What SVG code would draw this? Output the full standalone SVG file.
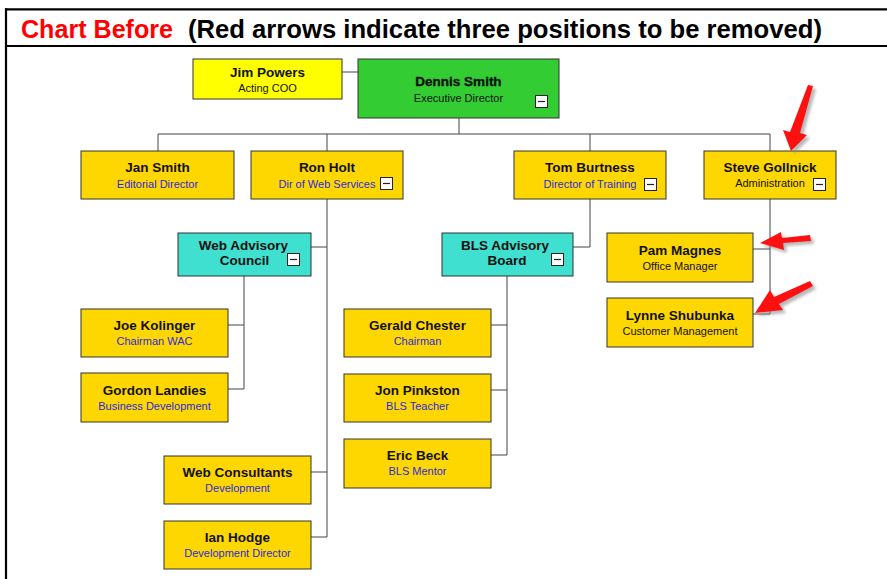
<svg xmlns="http://www.w3.org/2000/svg" width="887" height="579" viewBox="0 0 887 579">
<style>
.box{stroke:#333;stroke-width:1}
.y{fill:#FFD700}
.t{fill:#40E0D0}
.n{font-family:"Liberation Sans",Arial,sans-serif;font-weight:bold;font-size:13.5px;fill:#111;text-anchor:middle}
.s{font-family:"Liberation Sans",Arial,sans-serif;font-size:11px;fill:#2A2ADD;text-anchor:middle}
.k{fill:#111}
.c{fill:none;stroke:#444;stroke-width:1}
.cb{fill:#fff;stroke:#222;stroke-width:1}
.cm{stroke:#222;stroke-width:1.2}
.arrow{fill:#FF1010}
</style>
<defs>
<filter id="sh" x="-50%" y="-50%" width="200%" height="200%">
<feGaussianBlur stdDeviation="1.5"/>
</filter>
<g id="minus">
<rect class="cb" x="0.5" y="0.5" width="12" height="12"/>
<line class="cm" x1="3" y1="6.5" x2="10" y2="6.5"/>
</g>
</defs>
<rect width="887" height="579" fill="#fff"/>
<g id="frame" fill="none" stroke="#000" stroke-width="2.2">
<line x1="5" y1="9.3" x2="887" y2="9.3"/>
<line x1="5" y1="46" x2="887" y2="46"/>
<line x1="6" y1="8.2" x2="6" y2="579"/>
</g>
<g id="title" font-family="Liberation Sans,Arial,sans-serif" font-weight="bold" font-size="25px">
<text x="21" y="38" fill="#FF0000" textLength="152" lengthAdjust="spacingAndGlyphs">Chart Before</text>
<text x="188" y="38" fill="#000" textLength="634" lengthAdjust="spacingAndGlyphs">(Red arrows indicate three positions to be removed)</text>
</g>
<g id="connectors">
<path class="c" d="M342 72H358"/>
<path class="c" d="M459 118V134M158 134H770M158 134V151M327 134V151M590 134V151M770 134V151"/>
<path class="c" d="M327 199V537M311 247H327M311 472H327M311 537H327"/>
<path class="c" d="M244 276V389M228 325H244M228 389H244"/>
<path class="c" d="M590 199V247M573 247H590"/>
<path class="c" d="M507 276V455M491 325H507M491 390H507M491 455H507"/>
<path class="c" d="M770 199V314M753 249H770M753 314H770"/>
</g>
<g id="jim">
<rect class="box" x="193" y="59" width="149" height="40" fill="#FFFF00"/>
<text class="n" x="267.5" y="77" font-size="16.5px">Jim Powers</text>
<text class="s k" x="267.5" y="92">Acting COO</text>
</g>
<g id="dennis">
<rect class="box" x="358" y="59" width="201" height="59" fill="#33CC33"/>
<text class="n" x="458.5" y="86" font-size="15.5px" font-weight="normal" stroke="#111" stroke-width="0.35">Dennis Smith</text>
<text class="s k" x="458.5" y="102">Executive Director</text>
<use href="#minus" x="535" y="95"/>
</g>
<g id="jan">
<rect class="box y" x="81" y="151" width="153" height="48"/>
<text class="n" x="157.5" y="172">Jan Smith</text>
<text class="s" x="157.5" y="188">Editorial Director</text>
</g>
<g id="ron">
<rect class="box y" x="251" y="151" width="152" height="48"/>
<text class="n" x="327" y="172">Ron Holt</text>
<text class="s" x="327" y="188">Dir of Web Services</text>
<use href="#minus" x="380" y="177"/>
</g>
<g id="tom">
<rect class="box y" x="514" y="151" width="152" height="48"/>
<text class="n" x="590" y="172">Tom Burtness</text>
<text class="s" x="590" y="188">Director of Training</text>
<use href="#minus" x="644" y="178"/>
</g>
<g id="steve">
<rect class="box y" x="704" y="151" width="132" height="48"/>
<text class="n" x="770" y="172">Steve Gollnick</text>
<text class="s k" x="770" y="187">Administration</text>
<use href="#minus" x="813" y="178"/>
</g>
<g id="wac">
<rect class="box t" x="178" y="233" width="133" height="43"/>
<text class="n" x="243.5" y="250">Web Advisory</text>
<text class="n" x="244.5" y="265">Council</text>
<use href="#minus" x="287" y="253"/>
</g>
<g id="bls">
<rect class="box t" x="442" y="233" width="131" height="43"/>
<text class="n" x="505" y="250">BLS Advisory</text>
<text class="n" x="507" y="265">Board</text>
<use href="#minus" x="551" y="253"/>
</g>
<g id="pam">
<rect class="box y" x="607" y="233" width="146" height="49"/>
<text class="n" x="680" y="255">Pam Magnes</text>
<text class="s k" x="680" y="270">Office Manager</text>
</g>
<g id="lynne">
<rect class="box y" x="607" y="298" width="146" height="49"/>
<text class="n" x="680" y="320">Lynne Shubunka</text>
<text class="s k" x="680" y="335">Customer Management</text>
</g>
<g id="joe">
<rect class="box y" x="81" y="309" width="147" height="48"/>
<text class="n" x="154.5" y="330">Joe Kolinger</text>
<text class="s" x="154.5" y="345">Chairman WAC</text>
</g>
<g id="gordon">
<rect class="box y" x="81" y="373" width="147" height="49"/>
<text class="n" x="154.5" y="395">Gordon Landies</text>
<text class="s" x="154.5" y="410">Business Development</text>
</g>
<g id="gerald">
<rect class="box y" x="344" y="309" width="147" height="48"/>
<text class="n" x="417.5" y="330">Gerald Chester</text>
<text class="s" x="417.5" y="345">Chairman</text>
</g>
<g id="jon">
<rect class="box y" x="344" y="374" width="147" height="48"/>
<text class="n" x="417.5" y="395">Jon Pinkston</text>
<text class="s" x="417.5" y="410">BLS Teacher</text>
</g>
<g id="eric">
<rect class="box y" x="344" y="439" width="147" height="49"/>
<text class="n" x="417.5" y="460">Eric Beck</text>
<text class="s" x="417.5" y="475">BLS Mentor</text>
</g>
<g id="webcons">
<rect class="box y" x="164" y="456" width="147" height="48"/>
<text class="n" x="237.5" y="477">Web Consultants</text>
<text class="s" x="237.5" y="492">Development</text>
</g>
<g id="ian">
<rect class="box y" x="164" y="521" width="147" height="48"/>
<text class="n" x="237.5" y="542">Ian Hodge</text>
<text class="s" x="237.5" y="557">Development Director</text>
</g>
<g id="red-arrows">
<g transform="translate(3,3)" fill="#888" opacity="0.6" filter="url(#sh)">
<path d="M808 85 L813 86 L800 133 L807 135 L791 151 L783 130 L790 132 Z"/>
<path d="M810 235 L811 241 L783 243 L784 250 L760 243 L781 232 L782 238 Z"/>
<path d="M810 281 L813 286 L779 304 L783 310 L755 313 L770 290 L774 297 Z"/>
</g>
<path class="arrow" d="M808 85 L813 86 L800 133 L807 135 L791 151 L783 130 L790 132 Z"/>
<path class="arrow" d="M810 235 L811 241 L783 243 L784 250 L760 243 L781 232 L782 238 Z"/>
<path class="arrow" d="M810 281 L813 286 L779 304 L783 310 L755 313 L770 290 L774 297 Z"/>
</g>
</svg>
